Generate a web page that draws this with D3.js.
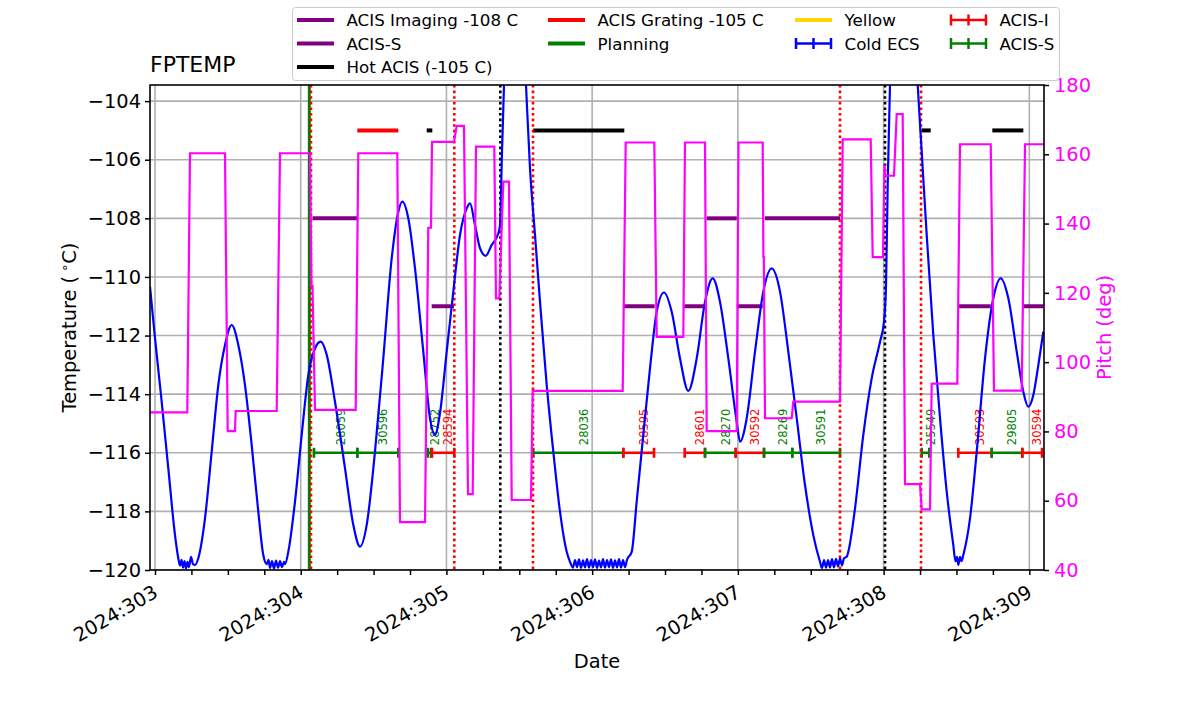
<!DOCTYPE html>
<html><head><meta charset="utf-8">
<script src="https://cdn.jsdelivr.net/npm/d3@7"></script>
<style>body{margin:0;background:#fff;} svg{font-family:"DejaVu Sans",sans-serif;}</style>
</head><body><svg id="c" width="1200" height="714"></svg>
<script>
// ---------------- data ----------------
const dayTicks = [303, 304, 305, 306, 307, 308, 309];
const dayTickLabels = ["2024:303","2024:304","2024:305","2024:306","2024:307","2024:308","2024:309"];
const minorDayTicks = d3.range(303, 309.01, 0.25);
const tempTicks = [-120,-118,-116,-114,-112,-110,-108,-106,-104];
const pitchTicks = [40,60,80,100,120,140,160,180];

// FPTEMP model temperature [day-of-year, degC]
const fptemp = [
[302.9657,-110.33],[303.0000,-112.09],[303.0460,-114.26],[303.0913,-116.53],[303.1373,-118.81],[303.1599,-119.60],
[303.1716,-119.85],[303.1819,-119.65],[303.1922,-119.92],[303.2025,-119.70],[303.2127,-119.95],[303.2230,-119.72],[303.2333,-119.90],[303.2470,-119.55],[303.2608,-119.80],[303.2745,-119.83],[303.2971,-119.60],
[303.3431,-118.24],[303.3891,-115.96],[303.4344,-113.69],[303.4804,-112.32],[303.5264,-111.64],[303.5716,-112.32],[303.6176,-113.69],[303.6636,-115.74],[303.7089,-118.01],[303.7432,-119.49],
[303.7666,-119.80],[303.7789,-119.65],[303.7892,-119.93],[303.8029,-119.70],[303.8166,-119.95],[303.8304,-119.68],[303.8441,-119.92],[303.8578,-119.70],[303.8715,-119.90],[303.8853,-119.72],[303.8921,-119.80],
[303.9148,-119.38],[303.9607,-117.67],[304.0067,-115.39],[304.0520,-113.35],[304.0980,-112.44],[304.1371,-112.21],[304.1783,-112.66],[304.2352,-114.26],[304.3039,-116.53],[304.3608,-118.46],[304.4068,-119.20],[304.4528,-118.46],[304.5097,-115.96],[304.5667,-112.78],[304.6243,-109.37],[304.6696,-107.78],[304.6971,-107.43],[304.7383,-108.00],[304.7843,-109.71],[304.8412,-112.55],[304.8872,-114.82],[304.9215,-115.39],[304.9558,-114.64],[305.0018,-112.55],[305.0471,-110.50],[305.0930,-108.57],[305.1390,-107.66],[305.1617,-107.49],[305.1960,-108.23],[305.2303,-109.02],[305.2694,-109.28],[305.3106,-108.91],[305.3559,-108.51],[305.3676,-108.23],[305.3813,-105.73],[305.3950,-103.45],[305.4088,-100.5],[305.4705,-97.0],[305.5186,-100.5],[305.5460,-103.45],[305.5734,-106.29],[305.6078,-108.57],[305.6421,-110.85],[305.6881,-113.69],[305.7334,-115.96],[305.7793,-118.01],[305.8253,-119.38],[305.8479,-119.72],
[305.8685,-119.92],[305.8822,-119.66],[305.8959,-119.90],[305.9097,-119.64],[305.9234,-119.93],[305.9371,-119.67],[305.9508,-119.91],[305.9646,-119.63],[305.9783,-119.92],[305.9920,-119.66],[306.0057,-119.90],[306.0195,-119.64],[306.0332,-119.93],[306.0469,-119.68],[306.0607,-119.91],[306.0744,-119.63],[306.0881,-119.92],[306.1018,-119.66],[306.1156,-119.90],[306.1293,-119.64],[306.1430,-119.93],[306.1567,-119.67],[306.1705,-119.91],[306.1842,-119.63],[306.1979,-119.92],[306.2116,-119.66],[306.2254,-119.90],[306.2391,-119.65],
[306.2713,-119.38],[306.3056,-117.67],[306.3509,-115.39],[306.3969,-113.12],[306.4429,-111.19],[306.4930,-110.53],[306.5458,-111.19],[306.6028,-112.78],[306.6598,-113.89],[306.7174,-112.78],[306.7744,-110.85],[306.8272,-110.05],[306.8773,-110.85],[306.9343,-112.78],[306.9919,-114.94],[307.0146,-115.62],[307.0606,-114.82],[307.1175,-112.55],[307.1745,-110.50],[307.2321,-109.71],[307.2891,-110.50],[307.3460,-112.55],[307.4037,-114.82],[307.4606,-117.10],[307.5176,-118.81],[307.5635,-119.72],
[307.5773,-119.93],[307.5910,-119.66],[307.6047,-119.92],[307.6184,-119.66],[307.6322,-119.91],[307.6459,-119.63],[307.6596,-119.91],[307.6733,-119.62],[307.6871,-119.88],[307.7008,-119.60],[307.7145,-119.84],[307.7282,-119.60],[307.7468,-119.55],
[307.7577,-119.38],[307.8037,-117.90],[307.8607,-115.39],[307.9183,-113.46],[307.9753,-112.21],[308.0027,-111.53],[308.0165,-110.28],[308.0281,-106.86],[308.0439,-103.45],[308.0576,-100.5],[308.1331,-97.0],[308.2066,-100.5],[308.2340,-103.45],[308.2615,-105.73],[308.2958,-108.57],[308.3411,-111.98],[308.3871,-114.82],[308.4331,-117.33],[308.4784,-119.15],[308.4935,-119.70],[308.5038,-119.55],[308.5127,-119.83],[308.5244,-119.55],[308.5347,-119.70],[308.5470,-119.49],[308.5930,-118.24],[308.6390,-115.96],[308.6960,-112.78],[308.7529,-110.73],[308.8037,-110.05],[308.8559,-110.73],[308.9135,-112.55],[308.9588,-113.92],[308.9931,-114.43],[309.0275,-114.03],[309.0618,-113.01],[309.0961,-111.87]
];

// Pitch [day-of-year, deg]
const pitch = [
[302.9657,85.5],[303.2217,85.5],[303.2402,160.3],[303.4804,160.3],[303.4989,80.1],[303.5490,80.1],[303.5538,85.9],[303.8352,85.9],[303.8578,160.3],[304.0637,160.3],[304.0740,122.0],[304.0808,122.0],[304.0980,86.2],[304.3773,86.2],[304.3951,160.3],[304.6628,160.3],[304.6813,53.8],[304.8529,53.8],[304.8755,138.8],[304.8940,138.8],[304.9009,163.6],[305.0519,163.6],[305.0704,168.2],[305.1205,168.2],[305.1480,61.9],[305.1802,61.9],[305.2029,162.2],[305.3284,162.2],[305.3401,118.4],[305.3628,118.4],[305.3902,152.1],[305.4293,152.1],[305.4479,60.2],[305.5803,60.2],[305.5920,91.7],[306.2096,91.7],[306.2302,163.4],[306.4265,163.4],[306.4429,107.3],[306.6255,107.3],[306.6371,163.4],[306.7744,163.4],[306.7860,80.1],[306.9919,80.1],[307.0042,163.4],[307.1703,163.4],[307.1750,130.4],[307.1780,130.4],[307.1861,83.8],[307.3693,83.8],[307.3803,88.6],[307.7008,88.6],[307.7193,164.3],[307.9115,164.3],[307.9252,130.3],[307.9959,130.3],[308.0060,157.0],[308.0120,153.8],[308.0714,153.8],[308.0899,171.6],[308.1311,171.6],[308.1469,64.8],[308.2498,64.8],[308.2615,57.5],[308.3185,57.5],[308.3301,93.8],[308.5058,93.8],[308.5244,162.9],[308.7351,162.9],[308.7577,91.8],[308.9478,91.8],[308.9705,162.9],[309.1008,162.9]
];

// horizontal limit segments [start, end]
const imaging108 = [[304.0810,304.3873],[306.7860,306.9926],[307.1861,307.7008]];
const acisS111 = [[304.8987,305.0519],[306.2165,306.4293],[306.6323,306.7744],[306.9919,307.1703],[308.5127,308.7351],[308.9588,309.0961]];
const grating105 = [[304.3883,304.6697]];
const hotAcis105 = [[304.8646,304.9030],[305.5961,306.2206],[308.2615,308.3233],[308.7460,308.9588]];
const limitLevels = {imaging:-108, acisS:-111, grating:-105, hot:-105};

// planning observations
const planStart = [304.0911,304.3883,304.8714,304.9009,305.5961,306.2137,306.6350,306.7744,306.9850,307.1792,307.3734,308.2615,308.5127,308.7419,308.9519];
const planEnd   = [304.3883,304.6697,304.8940,305.0539,306.2137,306.4244,306.7744,306.9850,307.1792,307.3734,307.7008,308.3137,308.7419,308.9519,309.0871];
const planObsid = ["28059","30596","28752","28594","28036","28595","28601","28270","30592","28269","30591","25549","30593","29805","30594"];
const planInst  = ["S","S","S","I","S","I","I","S","I","S","S","S","I","S","I"];
const planLevel = -116;

// vertical event lines
const vlineDays  = [304.0590,304.0705,305.0540,305.3696,305.5940,307.7008,308.0096,308.2567];
const vlineKinds = ["green","red","red","black","red","red","black","red"];

// ---------------- drawing ----------------
const svg = d3.select("#c");
const L=150, R=1044, T=85, B=570;
const x = d3.scaleLinear().domain([302.9657,309.1007]).range([L,R]);
const y = d3.scaleLinear().domain([-120,-103.45]).range([B,T]);
const yp = d3.scaleLinear().domain([40,180]).range([B,T]);
const FS = 19.4;

svg.append("rect").attr("width",1200).attr("height",714).attr("fill","#fff");
svg.append("defs").append("clipPath").attr("id","clip").append("rect")
  .attr("x",L).attr("y",T).attr("width",R-L).attr("height",B-T);

// grid
const grid = svg.append("g").attr("clip-path","url(#clip)");
grid.selectAll(".gx").data(dayTicks).join("line")
  .attr("x1",d=>x(d)).attr("x2",d=>x(d)).attr("y1",T).attr("y2",B)
  .attr("stroke","#b0b0b0").attr("stroke-width",1.6);
grid.selectAll(".gy").data(tempTicks).join("line")
  .attr("x1",L).attr("x2",R).attr("y1",d=>y(d)).attr("y2",d=>y(d))
  .attr("stroke","#b0b0b0").attr("stroke-width",1.6);

const plot = svg.append("g").attr("clip-path","url(#clip)");

function segs(data, level, color){
  plot.append("g").selectAll("line").data(data).join("line")
    .attr("x1",d=>x(d[0])).attr("x2",d=>x(d[1]))
    .attr("y1",y(level)).attr("y2",y(level))
    .attr("stroke",color).attr("stroke-width",4);
}
segs(imaging108, limitLevels.imaging, "#800080");
segs(acisS111, limitLevels.acisS, "#800080");
segs(grating105, limitLevels.grating, "#ff0000");
segs(hotAcis105, limitLevels.hot, "#000000");

// planning bars
const pcol = i => planInst[i]==="I" ? "#ff0000" : "#008000";
const pg = plot.append("g");
planStart.forEach((s,i)=>{
  const e = planEnd[i], yy = y(planLevel), c = pcol(i);
  pg.append("line").attr("x1",x(s)).attr("x2",x(e)).attr("y1",yy).attr("y2",yy)
    .attr("stroke",c).attr("stroke-width",2.6);
  [s,e].forEach(v=>pg.append("line").attr("x1",x(v)).attr("x2",x(v))
    .attr("y1",yy-5).attr("y2",yy+5).attr("stroke",c).attr("stroke-width",2.6));
  const cx = x((s+e)/2);
  pg.append("text").attr("transform",`translate(${cx+9.3},${y(-115.74)}) rotate(-90)`)
    .attr("font-size",11.5).attr("fill",c).text(planObsid[i]);
});

// vertical lines
const vcol = {green:"#008000", red:"#ff0000", black:"#000000"};
plot.append("g").selectAll("line").data(vlineDays).join("line")
  .attr("x1",d=>x(d)).attr("x2",d=>x(d)).attr("y1",T).attr("y2",B)
  .attr("stroke",(d,i)=>vcol[vlineKinds[i]])
  .attr("stroke-width",(d,i)=>vlineKinds[i]==="green"?3:2.6)
  .attr("stroke-dasharray",(d,i)=>vlineKinds[i]==="green"?null:"2.6,3");

// temperature
plot.append("path").datum(fptemp)
  .attr("d", d3.line().x(d=>x(d[0])).y(d=>y(d[1])).curve(d3.curveMonotoneX))
  .attr("fill","none").attr("stroke","#0000ff").attr("stroke-width",2.2);

// pitch
plot.append("path").datum(pitch)
  .attr("d", d3.line().x(d=>x(d[0])).y(d=>yp(d[1])))
  .attr("fill","none").attr("stroke","#ff00ff").attr("stroke-width",2.2);

// spines
svg.append("rect").attr("x",L).attr("y",T).attr("width",R-L).attr("height",B-T)
  .attr("fill","none").attr("stroke","#000").attr("stroke-width",1.6);

// axes
const ax = svg.append("g").attr("transform",`translate(0,${B})`)
  .call(d3.axisBottom(x).tickValues(minorDayTicks).tickSize(5).tickSizeOuter(0).tickFormat(""));
ax.select(".domain").remove();
ax.selectAll("line").attr("stroke-width",1.5);
dayTicks.forEach((d,i)=>{
  svg.append("text").attr("transform",`translate(${x(d)},580) rotate(-30)`)
    .attr("x",-4.5).attr("y",16).attr("text-anchor","end").attr("font-size",FS).text(dayTickLabels[i]);
});

const ayl = svg.append("g").attr("transform",`translate(${L},0)`)
  .call(d3.axisLeft(y).tickValues(tempTicks).tickSize(5).tickPadding(4).tickSizeOuter(0)
    .tickFormat(d=>"\u2212"+Math.abs(d)));
ayl.select(".domain").remove();
ayl.selectAll("line").attr("stroke-width",1.5);
ayl.selectAll("text").attr("font-size",FS).attr("font-family","DejaVu Sans").attr("fill","#000");

const ayr = svg.append("g").attr("transform",`translate(${R},0)`)
  .call(d3.axisRight(yp).tickValues(pitchTicks).tickSize(5).tickPadding(5).tickSizeOuter(0));
ayr.select(".domain").remove();
ayr.selectAll("line").attr("stroke-width",1.5);
ayr.selectAll("text").attr("font-size",FS).attr("font-family","DejaVu Sans").attr("fill","#ff00ff");

// labels
svg.append("text").attr("x",150).attr("y",72).attr("font-size",22).text("FPTEMP");
svg.append("text").attr("x",(L+R)/2).attr("y",668).attr("text-anchor","middle").attr("font-size",FS).text("Date");
const yl = svg.append("text").attr("transform",`translate(76,${(T+B)/2}) rotate(-90)`)
  .attr("text-anchor","middle").attr("font-size",FS);
yl.append("tspan").text("Temperature (");
yl.append("tspan").attr("dx",4).attr("font-size",13).attr("dy",-7).text("\u2218");
yl.append("tspan").attr("dy",7).text("C)");
svg.append("text").attr("transform",`translate(1111,${(T+B)/2}) rotate(-90)`)
  .attr("text-anchor","middle").attr("font-size",FS).attr("fill","#ff00ff").text("Pitch (deg)");

// legend
const lg = svg.append("g");
lg.append("rect").attr("x",292.5).attr("y",7.5).attr("width",767).attr("height",73).attr("rx",3)
  .attr("fill","#fff").attr("fill-opacity",0.8).attr("stroke","#cccccc").attr("stroke-width",1);
const legItems = [
  {col:0,row:0,label:"ACIS Imaging -108 C",color:"#800080",type:"line"},
  {col:0,row:1,label:"ACIS-S",color:"#800080",type:"line"},
  {col:0,row:2,label:"Hot ACIS (-105 C)",color:"#000000",type:"line"},
  {col:1,row:0,label:"ACIS Grating -105 C",color:"#ff0000",type:"line"},
  {col:1,row:1,label:"Planning",color:"#008000",type:"line"},
  {col:2,row:0,label:"Yellow",color:"#ffd700",type:"line"},
  {col:2,row:1,label:"Cold ECS",color:"#0000ff",type:"err"},
  {col:3,row:0,label:"ACIS-I",color:"#ff0000",type:"err"},
  {col:3,row:1,label:"ACIS-S",color:"#008000",type:"err"}
];
const colX = [297, 548, 795, 950];
const rowY = [20, 43.5, 67];
legItems.forEach(it=>{
  const x0 = colX[it.col], yy = rowY[it.row];
  if(it.type==="line"){
    lg.append("line").attr("x1",x0).attr("x2",x0+37).attr("y1",yy).attr("y2",yy)
      .attr("stroke",it.color).attr("stroke-width",4);
  } else {
    lg.append("line").attr("x1",x0).attr("x2",x0+37).attr("y1",yy).attr("y2",yy)
      .attr("stroke",it.color).attr("stroke-width",2.5);
    [x0+1, x0+18.5, x0+36].forEach(v=>lg.append("line").attr("x1",v).attr("x2",v)
      .attr("y1",yy-5.5).attr("y2",yy+5.5).attr("stroke",it.color).attr("stroke-width",2.5));
  }
  lg.append("text").attr("x",x0+49.5).attr("y",yy+6).attr("font-size",16.7).text(it.label);
});
</script></body></html>
